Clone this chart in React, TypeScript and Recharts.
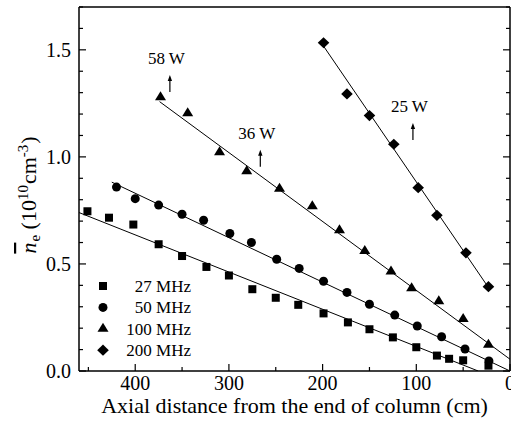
import { ComposedChart, Scatter, XAxis, YAxis, Legend, ReferenceDot } from "recharts";

const FONT = '"Liberation Serif", "Times New Roman", serif';

// 27 MHz (squares)
const x27 = [451, 428, 402, 375, 350, 324, 300, 275, 250, 226, 199, 173, 150, 125, 100, 78, 65, 50, 23];
const y27 = [0.746, 0.716, 0.684, 0.592, 0.537, 0.486, 0.446, 0.382, 0.342, 0.309, 0.269, 0.227, 0.195, 0.157, 0.111, 0.072, 0.057, 0.05, 0.025];
// 50 MHz (circles)
const x50 = [420, 400, 375, 350, 327, 299, 276, 249, 225, 199, 174, 150, 123, 99, 73, 48, 22.5];
const y50 = [0.859, 0.805, 0.775, 0.732, 0.704, 0.642, 0.6, 0.522, 0.479, 0.419, 0.367, 0.312, 0.261, 0.21, 0.16, 0.103, 0.047];
// 100 MHz (triangles)
const x100 = [373, 344, 310, 281, 246, 211, 182, 155, 127, 105, 76, 50, 23];
const y100 = [1.278, 1.204, 1.022, 0.933, 0.851, 0.769, 0.657, 0.561, 0.465, 0.387, 0.326, 0.243, 0.123];
// 200 MHz (diamonds)
const x200 = [199, 174, 150, 124, 98, 78, 47, 23];
const y200 = [1.533, 1.294, 1.193, 1.059, 0.856, 0.727, 0.552, 0.394];

// linear fits (end points)
const fitX27 = [460, 34];
const fitY27 = [0.74, 0];
const fitX50 = [425, 0];
const fitY50 = [0.882, 0];
const fitX100 = [374, 0];
const fitY100 = [1.258, 0.055];
const fitX200 = [201, 23];
const fitY200 = [1.53, 0.39];

// power annotations (arrow base)
const annoLabels = ["58 W", "36 W", "25 W"];
const annoX = [363, 266.5, 103.6];
const annoY = [1.303, 0.954, 1.079];

const xTicks = [0, 50, 100, 150, 200, 250, 300, 350, 400, 450];
const yTicks = [0, 0.1, 0.2, 0.3, 0.4, 0.5, 0.6, 0.7, 0.8, 0.9, 1.0, 1.1, 1.2, 1.3, 1.4, 1.5, 1.6, 1.7];

const toPoints = (xs: number[], ys: number[]) => xs.map((x, i) => ({ x, y: ys[i] }));

type Kind = "square" | "circle" | "triangle" | "diamond";

const series: { name: string; kind: Kind; data: { x: number; y: number }[] }[] = [
  { name: "27 MHz", kind: "square", data: toPoints(x27, y27) },
  { name: "50 MHz", kind: "circle", data: toPoints(x50, y50) },
  { name: "100 MHz", kind: "triangle", data: toPoints(x100, y100) },
  { name: "200 MHz", kind: "diamond", data: toPoints(x200, y200) },
];

const fits = [
  toPoints(fitX27, fitY27),
  toPoints(fitX50, fitY50),
  toPoints(fitX100, fitY100),
  toPoints(fitX200, fitY200),
];

const Marker = ({ kind, cx, cy }: { kind: Kind; cx: number; cy: number }) => {
  if (kind === "square") return <rect x={cx - 4} y={cy - 4} width={8} height={8} fill="#000" />;
  if (kind === "circle") return <circle cx={cx} cy={cy} r={4.5} fill="#000" />;
  if (kind === "triangle")
    return <polygon points={`${cx},${cy - 6} ${cx + 5.5},${cy + 3} ${cx - 5.5},${cy + 3}`} fill="#000" />;
  return <polygon points={`${cx},${cy - 5.6} ${cx + 5.8},${cy} ${cx},${cy + 5.6} ${cx - 5.8},${cy}`} fill="#000" />;
};

const MAJOR = 7;
const MINOR = 4;
const isMajorX = (v: number) => v % 100 === 0;
const isMajorY = (v: number) => Math.round(v * 10) % 5 === 0;

const BottomTick = ({ x, y, payload }: any) => {
  const major = isMajorX(payload.value);
  return (
    <g>
      <line x1={x} y1={y} x2={x} y2={y - (major ? MAJOR : MINOR)} stroke="#000" strokeWidth={1.2} />
      {major && (
        <text x={x} y={y + 18.5} textAnchor="middle" fontSize={20} fontFamily={FONT} fill="#000">
          {payload.value}
        </text>
      )}
    </g>
  );
};

const TopTick = ({ x, y, payload }: any) => {
  const major = isMajorX(payload.value);
  return <line x1={x} y1={y} x2={x} y2={y + (major ? MAJOR : MINOR)} stroke="#000" strokeWidth={1.2} />;
};

const LeftTick = ({ x, y, payload }: any) => {
  const major = isMajorY(payload.value);
  return (
    <g>
      <line x1={x} y1={y} x2={x + (major ? MAJOR : MINOR)} y2={y} stroke="#000" strokeWidth={1.2} />
      {major && (
        <text x={x - 8} y={y + 7} textAnchor="end" fontSize={20} fontFamily={FONT} fill="#000">
          {payload.value.toFixed(1)}
        </text>
      )}
    </g>
  );
};

const RightTick = ({ x, y, payload }: any) => {
  const major = isMajorY(payload.value);
  return <line x1={x} y1={y} x2={x - (major ? MAJOR : MINOR)} y2={y} stroke="#000" strokeWidth={1.2} />;
};

const XTitle = ({ viewBox }: any) => (
  <text x={viewBox.x + viewBox.width / 2} y={viewBox.y + 42} textAnchor="middle" fontSize={22} fontFamily={FONT} fill="#000">
    Axial distance from the end of column (cm)
  </text>
);

const YTitle = ({ viewBox }: any) => {
  const cx = viewBox.x + viewBox.width - 43;
  const cy = viewBox.y + viewBox.height / 2 + 6;
  return (
    <text transform={`translate(${cx},${cy}) rotate(-90)`} textAnchor="middle" fontSize={22} fontFamily={FONT} fill="#000">
      <tspan fontStyle="italic" textDecoration="overline">n</tspan>
      <tspan fontSize={15} dx={1} dy={4}>e</tspan>
      <tspan dy={-4}> (10</tspan>
      <tspan fontSize={15} dy={-8}>10</tspan>
      <tspan dx={1} dy={8}>cm</tspan>
      <tspan fontSize={15} dy={-8}>-3</tspan>
      <tspan dx={1} dy={8}>)</tspan>
    </text>
  );
};

const Annotation = ({ cx, cy, text }: any) => (
  <g>
    <line x1={cx} y1={cy} x2={cx} y2={cy - 12} stroke="#000" strokeWidth={1.2} />
    <polygon points={`${cx},${cy - 17} ${cx - 2.2},${cy - 11} ${cx + 2.2},${cy - 11}`} fill="#000" />
    <text x={cx - 3.5} y={cy - 28} textAnchor="middle" fontSize={17} fontFamily={FONT} fill="#000">
      {text}
    </text>
  </g>
);

const LegendBox = () => (
  <svg width={110} height={90} style={{ display: "block" }}>
    {series.map((s, i) => (
      <g key={s.name}>
        <Marker kind={s.kind} cx={12} cy={10 + i * 21.4} />
        <text x={100} y={10 + i * 21.4 + 6} textAnchor="end" fontSize={17} fontFamily={FONT} fill="#000">
          {s.name}
        </text>
      </g>
    ))}
  </svg>
);

const axisLine = { stroke: "#000", strokeWidth: 1.5 };

export default function App() {
  return (
    <div style={{ position: "absolute", left: 0, top: 0, width: 511, height: 438, background: "#fff" }}>
      <ComposedChart width={511} height={438} margin={{ top: 6, right: 0, bottom: 66, left: 78 }}>
        <XAxis
          dataKey="x"
          type="number"
          domain={[0, 460]}
          allowDataOverflow
          reversed
          ticks={xTicks}
          interval={0}
          height={1}
          tickSize={0}
          tickMargin={0}
          tickLine={false}
          tick={BottomTick}
          axisLine={axisLine}
          label={{ content: XTitle }}
        />
        <XAxis
          xAxisId="top"
          orientation="top"
          type="number"
          domain={[0, 460]}
          allowDataOverflow
          reversed
          ticks={xTicks}
          interval={0}
          height={1}
          tickSize={0}
          tickMargin={0}
          tickLine={false}
          tick={TopTick}
          axisLine={axisLine}
        />
        <YAxis
          dataKey="y"
          type="number"
          domain={[0, 1.7]}
          allowDataOverflow
          ticks={yTicks}
          interval={0}
          width={1}
          tickSize={0}
          tickMargin={0}
          tickLine={false}
          tick={LeftTick}
          axisLine={axisLine}
          label={{ content: YTitle }}
        />
        <YAxis
          yAxisId="right"
          orientation="right"
          type="number"
          domain={[0, 1.7]}
          allowDataOverflow
          ticks={yTicks}
          interval={0}
          width={1}
          tickSize={0}
          tickMargin={0}
          tickLine={false}
          tick={RightTick}
          axisLine={axisLine}
        />
        {fits.map((f, i) => (
          <Scatter
            key={`fit-${i}`}
            data={f}
            line={{ stroke: "#000", strokeWidth: 1 }}
            shape={() => <g />}
            legendType="none"
            isAnimationActive={false}
          />
        ))}
        {series.map((s) => (
          <Scatter
            key={s.name}
            name={s.name}
            data={s.data}
            shape={(p: any) => <Marker kind={s.kind} cx={p.cx} cy={p.cy} />}
            isAnimationActive={false}
          />
        ))}
        {annoLabels.map((t, i) => (
          <ReferenceDot
            key={t}
            x={annoX[i]}
            y={annoY[i]}
            r={0}
            shape={(p: any) => <Annotation cx={p.cx} cy={p.cy} text={t} />}
          />
        ))}
        <Legend
          layout="vertical"
          align="center"
          verticalAlign="middle"
          wrapperStyle={{ left: 91, top: 276, width: 110 }}
          content={LegendBox}
        />
      </ComposedChart>
    </div>
  );
}
